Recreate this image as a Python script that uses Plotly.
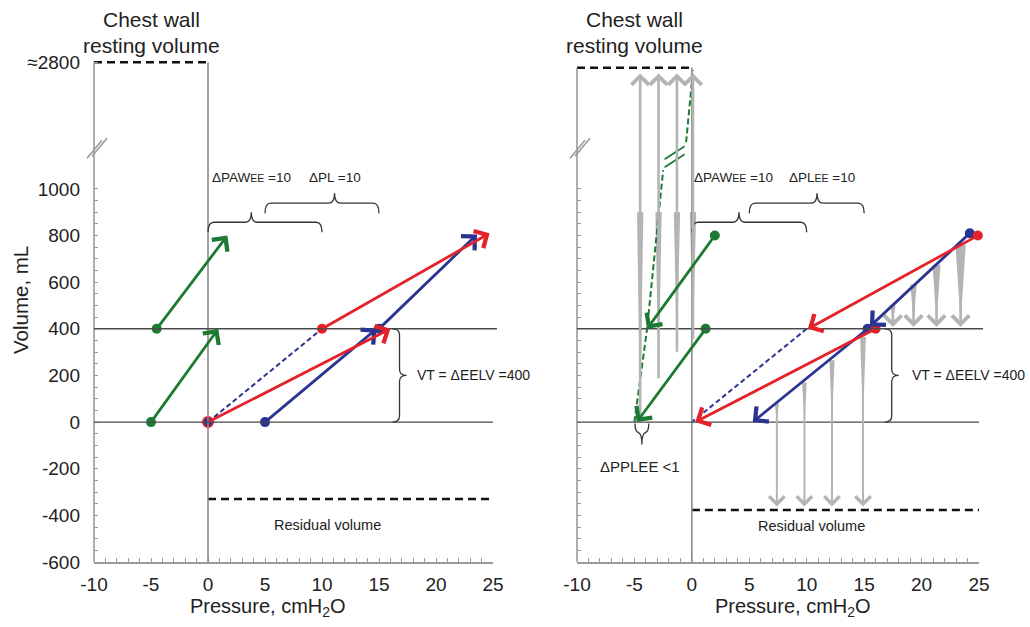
import plotly.graph_objects as go

# ---------------- data ----------------
X_TICKS = [-10, -5, 0, 5, 10, 15, 20, 25]
Y_TICKS = [-600, -400, -200, 0, 200, 400, 600, 800, 1000]
Y_BREAK_POS = 1543          # axis position that stands for ~2800 mL
Y_BREAK_LABEL = "≈2800"
EELV_LEVELS = [0, 400]      # end-expiratory lung volumes (before / after)
PAW_EE = 10
PL_EE = 10

# Left panel (inspiration)
L_green_x0 = [-5.0, -4.5]; L_green_y0 = [0, 400]
L_green_x1 = [0.9, 1.7];   L_green_y1 = [400, 800]
L_red_x0 = [0.0, 10.0];    L_red_y0 = [0, 400]
L_red_x1 = [16.0, 24.7];   L_red_y1 = [400, 810]
L_blue_x0 = [5.0, 15.0];   L_blue_y0 = [0, 400]
L_blue_x1 = [14.8, 23.6];  L_blue_y1 = [400, 805]
L_dash_x = [0, 10];        L_dash_y = [0, 400]
L_residual = -330
L_chest = 1543

# Right panel (expiration)
R_green_x0 = [2.0, 1.2];   R_green_y0 = [800, 400]
R_green_x1 = [-3.9, -4.8]; R_green_y1 = [400, 0]
R_red_x0 = [24.9, 16.0];   R_red_y0 = [800, 400]
R_red_x1 = [10.1, 0.3];    R_red_y1 = [400, 0]
R_blue_x0 = [24.2, 15.3];  R_blue_y0 = [810, 400]
R_blue_x1 = [15.5, 5.3];   R_blue_y1 = [410, 0]
R_dash_x = [10, 0];        R_dash_y = [400, 0]
R_gdash_low_x = [-5.0, -3.9, -2.5]; R_gdash_low_y = [0, 400, 1080]
R_gdash_up_x = [-0.5, 0.1];         R_gdash_up_y = [1200, 1510]
R_up_x = [-4.5, -2.9, -1.3, 0.1];   R_up_base = [0, 180, 295, 350]
R_up_top = 1495
R_up_wedge_top = 900
R_hi_x = [17.5, 19.3, 21.3, 23.4];  R_hi_top = [500, 590, 675, 760]
R_hi_w = [0.45, 0.55, 0.7, 0.9]
R_lo_x = [7.4, 9.8, 12.2, 14.9];    R_lo_top = [80, 170, 265, 365]
R_lo_w = [0.35, 0.4, 0.45, 0.5]
R_lo_tip = -362
R_residual = -377
R_chest = 1520

# ---------------- layout constants ----------------
W, H = 1030, 627
MT, MB = 49, 65
PH = H - MT - MB
X_RANGE = [-10, 25]
Y_RANGE = [-600, 1600]
DOM_L = [94 / W, 493 / W]
DOM_R = [577 / W, 979 / W]

RED = "#e3222a"
BLUE = "#2b3591"
GREEN = "#1d7a33"
GRAY = "#b4b4b4"
AX = "#9a9a9a"
HL = "#4a4a4a"
TXT = "#222222"
FONT = "Liberation Sans, Arial, sans-serif"


def pxx(x, dom):
    return (dom[0] + (x - X_RANGE[0]) / (X_RANGE[1] - X_RANGE[0]) * (dom[1] - dom[0])) * W


def pxy(v):
    return MT + PH - (v - Y_RANGE[0]) / (Y_RANGE[1] - Y_RANGE[0]) * PH


def to_paper(px, py):
    return px / W, (MT + PH - py) / PH


def path_from(points):
    parts = []
    for cmd, pts in points:
        coords = " ".join("%.5f,%.5f" % to_paper(*p) for p in pts)
        parts.append(cmd + coords)
    return " ".join(parts)


def hbrace(xa, xb, xp, v, dom, hook=10, peak=10, r=6, up=True):
    """curly brace, horizontal; peak points up (or down when up=False)"""
    a, b, p = pxx(xa, dom), pxx(xb, dom), pxx(xp, dom)
    y = pxy(v)
    s = 1 if up else -1
    yh = y + s * hook
    yp = y - s * peak
    return path_from([
        ("M", [(a, yh)]), ("Q", [(a, y), (a + r, y)]), ("L", [(p - r, y)]),
        ("Q", [(p, y), (p, yp)]), ("Q", [(p, y), (p + r, y)]), ("L", [(b - r, y)]),
        ("Q", [(b, y), (b, yh)]),
    ])


def vbrace(x, va, vb, dom, hook=7, peak=7, r=6):
    xv = pxx(x, dom)
    ya, yb = pxy(va), pxy(vb)
    ym = (ya + yb) / 2
    return path_from([
        ("M", [(xv - hook, ya)]), ("Q", [(xv, ya), (xv, ya + r)]), ("L", [(xv, ym - r)]),
        ("Q", [(xv, ym), (xv + peak, ym)]), ("Q", [(xv, ym), (xv, ym + r)]), ("L", [(xv, yb - r)]),
        ("Q", [(xv, yb), (xv - hook, yb)]),
    ])


fig = go.Figure()
annotations = []
shapes = []


def arrow(x0, y0, x1, y1, color, xr, yr, width=2.8, head=4, size=1.35):
    annotations.append(dict(x=x1, y=y1, ax=x0, ay=y0, xref=xr, yref=yr, axref=xr, ayref=yr,
                            text="", showarrow=True, arrowhead=head, arrowsize=size,
                            arrowwidth=width, arrowcolor=color, standoff=0, startstandoff=0))


def wedge_trace(xs, tops, bottoms, widths, xa, ya):
    px_, py_ = [], []
    for x, t, b, w in zip(xs, tops, bottoms, widths):
        px_ += [x - w / 2, x + w / 2, x, x - w / 2, None]
        py_ += [t, t, b, t, None]
    fig.add_trace(go.Scatter(x=px_, y=py_, mode="lines", fill="toself", fillcolor=GRAY,
                             line=dict(width=0, color=GRAY), xaxis=xa, yaxis=ya,
                             hoverinfo="skip", showlegend=False))


def line_trace(xs, ys, color, xa, ya, width=2.5, dash=None):
    fig.add_trace(go.Scatter(x=xs, y=ys, mode="lines",
                             line=dict(color=color, width=width, dash=dash),
                             xaxis=xa, yaxis=ya, hoverinfo="skip", showlegend=False))


def dots(xs, ys, color, xa, ya, outline=None):
    fig.add_trace(go.Scatter(x=xs, y=ys, mode="markers",
                             marker=dict(color=color, size=10,
                                         line=dict(color=outline or color, width=2 if outline else 0)),
                             xaxis=xa, yaxis=ya, hoverinfo="skip", showlegend=False, cliponaxis=False))


# ---------- reference lines (both panels) ----------
for dom, xr, yr, chest, resid in [(DOM_L, "x", "y", L_chest, L_residual),
                                   (DOM_R, "x2", "y2", R_chest, R_residual)]:
    x0p = dom[0]
    shapes.append(dict(type="line", xref="paper", yref="paper",
                       x0=x0p, x1=x0p, y0=0, y1=to_paper(0, pxy(chest))[1],
                       line=dict(color=AX, width=1.6)))
    shapes.append(dict(type="line", xref=xr, yref=yr, x0=0, x1=0, y0=Y_RANGE[0], y1=chest,
                       line=dict(color="#8a8a8a", width=1.6)))
    for lv in EELV_LEVELS:
        shapes.append(dict(type="line", xref="paper", yref=yr, x0=dom[0],
                           x1=(pxx(X_RANGE[1], dom) + (4 if lv else 0)) / W, y0=lv, y1=lv,
                           line=dict(color=HL, width=1.4)))
    yb = pxy(1174)
    xb = pxx(X_RANGE[0], dom)
    for off in (0, 5):
        shapes.append(dict(type="path", xref="paper", yref="paper",
                           path=path_from([("M", [(xb - 7 + off, yb + 10 - off * 0.4)]),
                                           ("L", [(xb + 8 + off, yb - 8 - off * 0.4)])]),
                           line=dict(color=AX, width=1.6)))
    line_trace([X_RANGE[0], 0], [chest, chest], "#111111", xr, yr, width=2.5, dash="8px,5px")
    line_trace([0, X_RANGE[1]], [resid, resid], "#111111", xr, yr, width=2.5, dash="8px,5px")

# ---------- right panel gray arrows / wedges ----------
wedge_trace(R_up_x, [R_up_wedge_top] * 4, R_up_base, [0.55] * 4, "x2", "y2")
wedge_trace(R_hi_x, R_hi_top, [EELV_LEVELS[1] + 25] * 4, R_hi_w, "x2", "y2")
wedge_trace(R_lo_x, R_lo_top, [EELV_LEVELS[0]] * 4, R_lo_w, "x2", "y2")
for x, b in zip(R_up_x, R_up_base):
    arrow(x, b, x, R_up_top, GRAY, "x2", "y2", width=2.6, head=4, size=1.3)
for x, t in zip(R_hi_x, R_hi_top):
    arrow(x, t, x, EELV_LEVELS[1] + 8, GRAY, "x2", "y2", width=2.6, head=4, size=1.3)
for x, t in zip(R_lo_x, R_lo_top):
    arrow(x, t, x, R_lo_tip, GRAY, "x2", "y2", width=2.0, head=4, size=1.5)

# ---------- left panel ----------
line_trace(L_dash_x, L_dash_y, BLUE, "x", "y", width=2, dash="5px,3px")
for xs0, ys0, xs1, ys1, c in [(L_green_x0, L_green_y0, L_green_x1, L_green_y1, GREEN),
                              (L_blue_x0, L_blue_y0, L_blue_x1, L_blue_y1, BLUE),
                              (L_red_x0, L_red_y0, L_red_x1, L_red_y1, RED)]:
    for a, b, c1, d in zip(xs0, ys0, xs1, ys1):
        arrow(a, b, c1, d, c, "x", "y")
dots(L_green_x0, L_green_y0, GREEN, "x", "y")
dots(L_blue_x0, L_blue_y0, BLUE, "x", "y")
dots(L_red_x0[1:], L_red_y0[1:], RED, "x", "y")
dots(L_red_x0[:1], L_red_y0[:1], BLUE, "x", "y", outline=RED)

# ---------- right panel ----------
line_trace(R_dash_x, R_dash_y, BLUE, "x2", "y2", width=2, dash="5px,3px")
line_trace(R_gdash_low_x, R_gdash_low_y, GREEN, "x2", "y2", width=2, dash="6px,3px")
line_trace(R_gdash_up_x, R_gdash_up_y, GREEN, "x2", "y2", width=2, dash="6px,3px")
gx, gy = pxx(-1.5, DOM_R), pxy(1140)
for off in (-4, 4):
    shapes.append(dict(type="path", xref="paper", yref="paper",
                       path=path_from([("M", [(gx - 10, gy + 7 + off)]), ("L", [(gx + 10, gy - 6 + off)])]),
                       line=dict(color=GREEN, width=1.8)))
for xs0, ys0, xs1, ys1, c in [(R_green_x0, R_green_y0, R_green_x1, R_green_y1, GREEN),
                              (R_blue_x0, R_blue_y0, R_blue_x1, R_blue_y1, BLUE),
                              (R_red_x0, R_red_y0, R_red_x1, R_red_y1, RED)]:
    for a, b, c1, d in zip(xs0, ys0, xs1, ys1):
        arrow(a, b, c1, d, c, "x2", "y2")
dots(R_green_x0, R_green_y0, GREEN, "x2", "y2")
dots(R_blue_x0, R_blue_y0, BLUE, "x2", "y2")
dots(R_red_x0, R_red_y0, RED, "x2", "y2")

# ---------- braces ----------
BR = dict(color="#333333", width=1.3)
for dom, paw_peak, pl_peak in [(DOM_L, 3.8, 11.1), (DOM_R, 4.1, 10.9)]:
    shapes.append(dict(type="path", xref="paper", yref="paper",
                       path=hbrace(0, PAW_EE, paw_peak, 857, dom), line=BR))
    shapes.append(dict(type="path", xref="paper", yref="paper",
                       path=hbrace(5, 5 + PL_EE, pl_peak, 939, dom), line=BR))
shapes.append(dict(type="path", xref="paper", yref="paper",
                   path=vbrace(16.8, EELV_LEVELS[1], EELV_LEVELS[0], DOM_L), line=BR))
shapes.append(dict(type="path", xref="paper", yref="paper",
                   path=vbrace(17.4, EELV_LEVELS[1], EELV_LEVELS[0], DOM_R), line=BR))
shapes.append(dict(type="path", xref="paper", yref="paper",
                   path=hbrace(-4.95, -3.75, -4.35, -45, DOM_R, hook=9, peak=12, r=4, up=False),
                   line=BR))

# ---------- text ----------
SM = "<span style='font-size:10.5px'>EE</span>"


def label(text, x, y, xr, yr, size=13, xanchor="center", yanchor="middle", angle=0):
    annotations.append(dict(text=text, x=x, y=y, xref=xr, yref=yr, showarrow=False,
                            xanchor=xanchor, yanchor=yanchor, textangle=angle,
                            font=dict(size=size, color=TXT, family=FONT)))


for xr, paw_peak, pl_peak, pl_txt, vt_x, res_x, res_y in [
        ("x", 3.8, 11.1, "ΔPL =%d" % PL_EE, 18.2, 10.5, -440),
        ("x2", 3.6, 11.3, "ΔPL" + SM + " =%d" % PL_EE, 19.0, 10.4, -447)]:
    yr = "y" if xr == "x" else "y2"
    label("Chest wall", -5, to_paper(0, 20)[1], xr, "paper", size=21)
    label("resting volume", -5, to_paper(0, 45)[1], xr, "paper", size=21)
    label("ΔPAW" + SM + " =%d" % PAW_EE, paw_peak, 1051, xr, yr, size=13.5)
    label(pl_txt, pl_peak, 1051, xr, yr, size=13.5)
    label("VT = ΔEELV =%d" % (EELV_LEVELS[1] - EELV_LEVELS[0]), vt_x, 201, xr, yr, size=14,
          xanchor="left")
    label("Residual volume", res_x, res_y, xr, yr, size=14.5)

label("ΔPPLEE &lt;1", -4.5, -190, "x2", "y2", size=15)
label("Volume, mL", 20 / W, to_paper(0, 300)[1], "paper", "paper", size=20.5, angle=-90)
label("Pressure, cmH<sub>2</sub>O", 5.3, to_paper(0, 608)[1], "x", "paper", size=20)
label("Pressure, cmH<sub>2</sub>O", 8.8, to_paper(0, 608)[1], "x2", "paper", size=20)

# ---------- axes ----------
TICKFONT = dict(size=19, color=TXT, family=FONT)
xaxis_common = dict(range=X_RANGE, tickvals=X_TICKS, ticktext=[str(v) for v in X_TICKS],
                    showgrid=False, zeroline=False, showline=True, linecolor=AX, linewidth=1.6,
                    ticks="inside", ticklen=4, tickcolor=AX, tickwidth=1,
                    minor=dict(tickmode="array", tickvals=list(range(-10, 26)),
                               ticks="inside", ticklen=4, tickcolor=AX, tickwidth=1),
                    tickfont=TICKFONT, ticklabelstandoff=4)
yminor = [v for v in range(-600, 1001, 50) if v % 200]
yaxis_common = dict(range=Y_RANGE, showgrid=False, zeroline=False, showline=False,
                    ticks="inside", ticklen=4, tickcolor=AX, tickwidth=1,
                    minor=dict(tickmode="array", tickvals=yminor, ticks="inside", ticklen=4,
                               tickcolor=AX, tickwidth=1),
                    tickfont=TICKFONT, ticklabelstandoff=13)

fig.update_layout(
    width=W, height=H, margin=dict(l=0, r=0, t=MT, b=MB, autoexpand=False),
    paper_bgcolor="white", plot_bgcolor="white", showlegend=False,
    font=dict(family=FONT, color=TXT),
    xaxis=dict(domain=DOM_L, anchor="y", **xaxis_common),
    xaxis2=dict(domain=DOM_R, anchor="y2", **xaxis_common),
    yaxis=dict(domain=[0, 1], anchor="x", tickvals=Y_TICKS + [Y_BREAK_POS],
               ticktext=[str(v) for v in Y_TICKS] + [Y_BREAK_LABEL], **yaxis_common),
    yaxis2=dict(domain=[0, 1], anchor="x2", tickvals=Y_TICKS, showticklabels=False, **yaxis_common),
    annotations=annotations, shapes=shapes,
)

fig.write_html("out.html")
